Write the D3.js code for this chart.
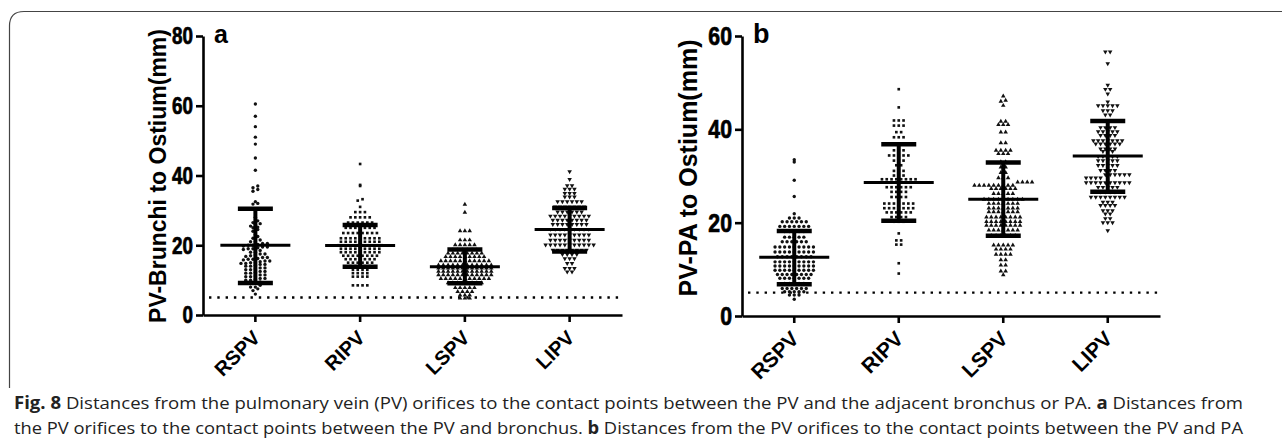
<!DOCTYPE html>
<html>
<head>
<meta charset="utf-8">
<script src="https://cdnjs.cloudflare.com/ajax/libs/d3/7.8.5/d3.min.js"></script>
<style>
  body { margin: 0; background: #fff; }
  svg { display: block; }
</style>
</head>
<body>
<svg id="fig" width="1282" height="442"></svg>
<script>
// categories and tick labels
const categories = ["RSPV", "RIPV", "LSPV", "LIPV"];
const aTicks = [0, 20, 40, 60, 80];
const bTicks = [0, 20, 40, 60];
const refLine = 5;

// panel a: PV-bronchus distances (mm)
const aRSPV = [60.5, 57.0, 54.0, 51.0, 49.0, 45.0, 41.5, 37.0, 36.5, 36.0, 35.5, 32.5, 32.0, 31.8,
  28.0, 27.0, 26.5, 26.2, 26.0, 25.5, 25.2, 25.0, 24.5, 24.0, 23.0, 22.5, 22.0, 21.5,
  21.0, 21.0, 20.5, 20.5, 20.2, 20.0, 20.0, 19.8, 19.5, 19.5, 19.3, 19.0, 19.0, 18.8,
  18.5, 18.0, 18.0, 17.5, 17.5, 17.2, 17.0, 16.8, 16.5, 16.5, 16.2, 16.0, 16.0, 15.8, 15.5, 15.5, 15.3, 15.0, 15.0, 14.8, 14.8,
  14.5, 14.5, 14.2, 14.0, 14.0, 13.5, 13.5, 13.2, 13.0, 13.0, 12.5, 12.5, 12.2, 12.0, 12.0,
  11.5, 11.5, 11.2, 11.0, 11.0, 10.5, 10.5, 10.2, 10.0, 10.0, 9.5, 9.5, 9.0,
  8.5, 8.0, 8.0, 7.5, 7.0, 6.0];
const aRIPV = [43.3, 37.3, 37.0, 33.2, 32.8, 31.0, 29.5, 29.5, 29.5,
  28.0, 28.0, 28.0, 28.0, 28.0,
  26.5, 26.5, 26.5, 26.5, 26.5, 26.5,
  25.0, 25.0, 25.0, 25.0, 25.0, 25.0, 25.0,
  23.5, 23.5, 23.5, 23.5, 23.5, 23.5, 23.5, 23.5,
  22.0, 22.0, 22.0, 22.0, 22.0, 22.0, 22.0, 22.0, 22.0,
  21.0, 21.0, 21.0, 21.0, 21.0, 21.0, 21.0, 21.0, 21.0,
  20.0, 20.0, 20.0, 20.0, 20.0, 20.0, 20.0, 20.0, 20.0, 20.0,
  19.0, 19.0, 19.0, 19.0, 19.0, 19.0, 19.0, 19.0, 19.0,
  18.0, 18.0, 18.0, 18.0, 18.0, 18.0, 18.0, 18.0, 18.0,
  17.0, 17.0, 17.0, 17.0, 17.0, 17.0, 17.0, 17.0,
  16.0, 16.0, 16.0, 16.0, 16.0, 16.0, 16.0,
  15.0, 15.0, 15.0, 15.0, 15.0, 15.0,
  14.0, 14.0, 14.0, 14.0, 14.0,
  13.0, 13.0, 13.0, 13.0,
  12.0, 12.0, 12.0, 12.0,
  11.0, 11.0, 11.0, 11.0,
  8.5, 8.5, 8.5, 8.5];
const aLSPV = [31.7, 29.4,
  24.1, 24.1, 24.1,
  21.5, 21.5, 21.5,
  20.1, 20.1, 20.1, 20.1, 20.1,
  18.7, 18.7, 18.7, 18.7, 18.7, 18.7,
  17.7, 17.7, 17.7, 17.7, 17.7, 17.7, 17.7, 17.7,
  16.7, 16.7, 16.7, 16.7, 16.7, 16.7, 16.7, 16.7, 16.7,
  15.5, 15.5, 15.5, 15.5, 15.5, 15.5, 15.5, 15.5, 15.5, 15.5, 15.5,
  14.3, 14.3, 14.3, 14.3, 14.3, 14.3, 14.3, 14.3, 14.3, 14.3, 14.3, 14.3,
  13.4, 13.4, 13.4, 13.4, 13.4, 13.4, 13.4, 13.4, 13.4, 13.4, 13.4, 13.4,
  12.5, 12.5, 12.5, 12.5, 12.5, 12.5, 12.5, 12.5, 12.5, 12.5, 12.5, 12.5,
  11.5, 11.5, 11.5, 11.5, 11.5, 11.5, 11.5, 11.5, 11.5, 11.5, 11.5, 11.5,
  10.4, 10.4, 10.4, 10.4, 10.4, 10.4, 10.4, 10.4, 10.4, 10.4, 10.4,
  9.2, 9.2, 9.2, 9.2, 9.2, 9.2, 9.2, 9.2,
  7.8, 7.8, 7.8, 7.8, 7.8,
  6.7, 6.7, 6.7, 6.7,
  5.7, 5.7, 5.7,
  4.8, 4.8, 4.8];
const aLIPV = [41.1, 38.9,
  37.1, 37.1,
  36.1, 36.1, 36.1,
  34.9, 34.9, 34.9,
  33.9, 33.9, 33.9,
  32.5, 32.5, 32.5, 32.5, 32.5, 32.5,
  31.0, 31.0, 31.0, 31.0, 31.0, 31.0, 31.0,
  29.6, 29.6, 29.6, 29.6, 29.6, 29.6,
  28.4, 28.4, 28.4, 28.4, 28.4, 28.4, 28.4, 28.4, 28.4,
  27.2, 27.2, 27.2, 27.2, 27.2, 27.2, 27.2, 27.2,
  26.0, 26.0, 26.0, 26.0, 26.0, 26.0, 26.0, 26.0,
  24.6, 24.6, 24.6, 24.6, 24.6, 24.6, 24.6, 24.6, 24.6,
  23.0, 23.0, 23.0, 23.0, 23.0, 23.0, 23.0, 23.0, 23.0,
  21.5, 21.5, 21.5, 21.5, 21.5, 21.5, 21.5, 21.5, 21.5,
  20.1, 20.1, 20.1, 20.1, 20.1, 20.1, 20.1, 20.1, 20.1, 20.1, 20.1,
  18.6, 18.6, 18.6, 18.6, 18.6, 18.6, 18.6, 18.6,
  17.4, 17.4, 17.4, 17.4,
  16.2, 16.2, 16.2,
  14.8, 14.8,
  13.4, 13.4, 13.4,
  12.4, 12.4];
const aMean = [20.0, 19.9, 13.8, 24.5];
const aSdUp = [30.5, 25.8, 18.8, 30.7];
const aSdLo = [9.2, 13.8, 9.1, 18.2];

// panel b: PV-PA distances (mm)
const bRSPV = [33.5, 33.0, 29.1, 25.6, 21.9,
  21.0, 21.0, 21.0,
  20.2, 20.2, 20.2, 20.2, 20.2, 20.2,
  19.2, 19.2, 19.2, 19.2, 19.2, 19.2, 19.2,
  18.1, 18.1, 18.1, 18.1, 18.1,
  16.9, 16.9, 16.9, 16.9, 16.9,
  15.9, 15.9, 15.9, 15.9, 15.9, 15.9,
  14.8, 14.8, 14.8, 14.8, 14.8, 14.8, 14.8, 14.8, 14.8,
  13.7, 13.7, 13.7, 13.7, 13.7, 13.7, 13.7, 13.7, 13.7,
  12.7, 12.7, 12.7, 12.7, 12.7, 12.7, 12.7, 12.7,
  11.6, 11.6, 11.6, 11.6, 11.6, 11.6, 11.6, 11.6, 11.6,
  10.7, 10.7, 10.7, 10.7, 10.7, 10.7, 10.7, 10.7, 10.7,
  9.8, 9.8, 9.8, 9.8, 9.8, 9.8, 9.8, 9.8, 9.8,
  8.9, 8.9, 8.9, 8.9, 8.9, 8.9, 8.9, 8.9,
  8.1, 8.1, 8.1, 8.1, 8.1, 8.1, 8.1,
  7.0, 7.0, 7.0, 7.0, 7.0,
  5.9, 5.9, 5.9, 5.9, 5.9, 5.9,
  5.2, 5.2, 5.2, 5.2, 5.2,
  4.5, 4.5, 4.5,
  3.6];
const bRIPV = [48.6, 44.7,
  41.9, 41.9, 41.9,
  40.8, 40.8, 40.8,
  39.4, 39.4,
  38.3, 38.3, 38.3,
  36.9, 36.9, 36.9,
  35.5, 35.5, 35.5,
  34.4, 34.4, 34.4, 34.4, 34.4,
  33.3, 33.3, 33.3,
  32.3, 32.3,
  31.1, 31.1, 31.1,
  30.1, 30.1, 30.1,
  29.3, 29.3, 29.3, 29.3, 29.3, 29.3, 29.3, 29.3,
  28.6, 28.6, 28.6, 28.6, 28.6, 28.6,
  27.6, 27.6, 27.6, 27.6, 27.6, 27.6,
  26.6, 26.6, 26.6, 26.6,
  25.5, 25.5, 25.5, 25.5,
  24.1, 24.1, 24.1, 24.1, 24.1, 24.1, 24.1,
  23.1, 23.1, 23.1, 23.1, 23.1, 23.1, 23.1,
  22.2, 22.2, 22.2, 22.2, 22.2, 22.2,
  21.2, 21.2, 21.2, 21.2,
  20.2, 20.2, 20.2,
  17.7, 16.2, 16.2, 15.3, 15.3, 11.3, 9.1];
const bLSPV = [47.1, 46.2, 46.0, 45.1,
  41.7, 41.7,
  41.0, 41.0, 41.0,
  39.4, 39.4,
  37.1, 37.1,
  35.5, 35.5, 35.5, 35.5,
  34.8, 34.8, 34.8,
  33.0, 33.0,
  31.9, 31.9,
  30.7, 30.7,
  29.6, 29.6, 29.6,
  28.7, 28.7, 28.7, 28.7,
  28.0, 28.0, 28.0, 28.0, 28.0, 28.0, 28.0, 28.0, 28.0,
  27.3, 27.3, 27.3, 27.3, 27.3, 27.3,
  26.2, 26.2, 26.2, 26.2, 26.2,
  25.0, 25.0, 25.0, 25.0, 25.0, 25.0, 25.0, 25.0, 25.0,
  24.1, 24.1, 24.1, 24.1, 24.1, 24.1, 24.1,
  23.1, 23.1, 23.1, 23.1, 23.1, 23.1, 23.1,
  22.3, 22.3, 22.3, 22.3, 22.3, 22.3, 22.3,
  21.2, 21.2, 21.2, 21.2, 21.2, 21.2, 21.2, 21.2,
  20.2, 20.2, 20.2, 20.2, 20.2, 20.2, 20.2, 20.2,
  19.4, 19.4, 19.4, 19.4, 19.4, 19.4, 19.4, 19.4,
  18.4, 18.4, 18.4, 18.4, 18.4, 18.4, 18.4,
  17.2, 17.2, 17.2, 17.2, 17.2, 17.2,
  15.2, 15.2, 15.2, 15.2, 15.2,
  14.3, 14.3, 14.3, 14.3,
  13.2, 13.2, 13.2, 13.2,
  12.0, 12.0, 10.9, 10.9, 9.6, 9.6, 8.8];
const bLIPV = [56.6, 56.6, 54.1, 49.5, 48.6, 48.6, 47.6, 45.9,
  45.1, 45.1, 45.1, 45.1, 45.1,
  44.0, 44.0, 44.0,
  43.1, 43.1,
  41.9, 41.9, 41.9, 41.9,
  40.4, 40.4, 40.4, 40.4,
  39.5, 39.5, 39.5, 39.5, 39.5,
  38.7, 38.7, 38.7, 38.7,
  37.6, 37.6, 37.6, 37.6, 37.6, 37.6, 37.6,
  36.9, 36.9, 36.9, 36.9, 36.9, 36.9,
  35.8, 35.8, 35.8, 35.8,
  35.3, 35.3, 35.3,
  34.2, 34.2, 34.2, 34.2, 34.2,
  33.3, 33.3, 33.3, 33.3, 33.3,
  32.3, 32.3, 32.3, 32.3, 32.3,
  31.2, 31.2, 31.2, 31.2,
  30.3, 30.3, 30.3, 30.3, 30.3, 30.3,
  29.6, 29.6, 29.6, 29.6,
  28.6, 28.6, 28.6, 28.6, 28.6, 28.6, 28.6, 28.6, 28.6, 28.6,
  27.6, 27.6, 27.6, 27.6, 27.6,
  26.6, 26.6, 26.6, 26.6,
  25.5, 25.5, 25.5, 25.5, 25.5, 25.5, 25.5, 25.5,
  24.4, 24.4, 24.4,
  23.7, 23.7, 23.7, 23.7,
  22.6, 22.6, 22.6,
  21.9, 21.9,
  20.9, 20.9,
  20.0, 20.0, 20.0,
  18.3];
const bMean = [12.6, 28.6, 25.0, 34.3];
const bSdUp = [18.2, 36.8, 32.9, 41.8];
const bSdLo = [6.8, 20.4, 17.2, 26.6];

const svg = d3.select("#fig");
const font = "'Liberation Sans', Arial, sans-serif";

// figure frame (left and top edge with rounded corner)
svg.append("path")
  .attr("d", "M9.5,388 L9.5,26 Q9.5,11.5 24,11.5 L1282,11.5")
  .attr("fill", "none")
  .attr("stroke", "#444")
  .attr("stroke-width", 1.2);

const symbols = [d3.symbolCircle, d3.symbolSquare, d3.symbolTriangle, d3.symbolTriangle];

// Prism-like scatter: values falling in the same pixel row are spread symmetrically
function spread(values, y, rowH, step) {
  const pts = values.map(v => ({ v: v, y: y(v), dx: 0 }));
  const rows = d3.group(pts, p => Math.round(p.y / rowH));
  rows.forEach(row => {
    row.sort((a, b) => a.v - b.v);
    row.forEach((p, j) => { p.dx = (j - (row.length - 1) / 2) * step; });
  });
  return pts;
}

function drawPanel(cfg) {
  const x = d3.scaleBand().domain(categories).range([cfg.left, cfg.right]);
  const y = d3.scaleLinear().domain([0, cfg.max]).range([cfg.bottom, cfg.top]);
  const g = svg.append("g");

  // reference line at 5 mm
  g.append("line")
    .attr("x1", cfg.left + 6).attr("x2", cfg.right)
    .attr("y1", y(refLine)).attr("y2", y(refLine))
    .attr("stroke", "#000").attr("stroke-width", 2.4)
    .attr("stroke-dasharray", "2.4 5.9");

  // dots
  cfg.groups.forEach((vals, i) => {
    const cx = x(categories[i]) + x.bandwidth() / 2;
    const pts = spread(vals, y, cfg.rowH, cfg.step);
    g.append("g").selectAll("path")
      .data(pts)
      .join("path")
      .attr("d", d3.symbol().type(symbols[i]).size(i === 1 ? 7 : 9))
      .attr("transform", p => `translate(${cx + p.dx},${p.y})` + (i === 3 ? " rotate(180)" : ""))
      .attr("fill", "#111");
  });

  // mean and SD bars
  categories.forEach((c, i) => {
    const cx = x(c) + x.bandwidth() / 2;
    g.append("line").attr("x1", cx).attr("x2", cx)
      .attr("y1", y(cfg.up[i])).attr("y2", y(cfg.lo[i]))
      .attr("stroke", "#000").attr("stroke-width", 4);
    [cfg.up[i], cfg.lo[i]].forEach(v => {
      g.append("line").attr("x1", cx - 17.5).attr("x2", cx + 17.5)
        .attr("y1", y(v)).attr("y2", y(v))
        .attr("stroke", "#000").attr("stroke-width", 4.5);
    });
    g.append("line").attr("x1", cx - 35).attr("x2", cx + 35)
      .attr("y1", y(cfg.mean[i])).attr("y2", y(cfg.mean[i]))
      .attr("stroke", "#000").attr("stroke-width", 3);
  });

  // axes (labels drawn separately below)
  const yAxis = g.append("g")
    .attr("transform", `translate(${cfg.left},0)`)
    .call(d3.axisLeft(y).tickValues(cfg.ticks).tickSize(7).tickSizeOuter(0).tickFormat(""));
  const xAxis = g.append("g")
    .attr("transform", `translate(0,${cfg.bottom})`)
    .call(d3.axisBottom(x).tickSize(7).tickSizeOuter(0).tickFormat(""));
  [yAxis, xAxis].forEach(a => {
    a.select(".domain").attr("stroke-width", 2.6);
    a.selectAll(".tick line").attr("stroke-width", 2.6);
  });

  // tick labels: heavy bold, slightly condensed like the original export
  g.append("g").selectAll("text")
    .data(cfg.ticks)
    .join("text")
    .attr("transform", t => `translate(${cfg.left - 10},${y(t)}) scale(${cfg.squeeze},1)`)
    .attr("dy", "0.36em")
    .attr("text-anchor", "end")
    .attr("fill", "#000")
    .attr("stroke", "#000")
    .attr("stroke-width", 0.7)
    .style("font-family", font).style("font-weight", "700")
    .style("font-size", cfg.tickFs + "px")
    .text(t => t);

  // rotated category labels
  categories.forEach(c => {
    const cx = x(c) + x.bandwidth() / 2;
    g.append("text")
      .attr("transform", `translate(${cx + cfg.labDx},${cfg.bottom + cfg.labDy}) rotate(-45)`)
      .attr("text-anchor", "end")
      .style("font-family", font).style("font-weight", "bold")
      .style("font-size", cfg.catFs + "px")
      .text(c);
  });

  // y title and panel letter
  g.append("text")
    .attr("transform", `translate(${cfg.titleX},${cfg.titleY}) rotate(-90)`)
    .attr("text-anchor", "middle")
    .style("font-family", font).style("font-weight", "bold")
    .style("font-size", cfg.titleFs + "px")
    .text(cfg.title);
  g.append("text")
    .attr("x", cfg.left + 11).attr("y", cfg.top + 7)
    .style("font-family", font).style("font-weight", "bold")
    .style("font-size", cfg.letterFs + "px")
    .text(cfg.letter);
}

drawPanel({
  letter: "a", title: "PV-Brunchi to Ostium(mm)",
  left: 203, right: 622, top: 36, bottom: 315, max: 80, ticks: aTicks,
  groups: [aRSPV, aRIPV, aLSPV, aLIPV], mean: aMean, up: aSdUp, lo: aSdLo,
  rowH: 3.4, step: 4.8, tickFs: 23, squeeze: 0.82, catFs: 20, titleFs: 23, letterFs: 25,
  titleX: 166, titleY: 176, labDx: 6, labDy: 24
});
drawPanel({
  letter: "b", title: "PV-PA to Ostium(mm)",
  left: 742, right: 1160, top: 36, bottom: 316, max: 60, ticks: bTicks,
  groups: [bRSPV, bRIPV, bLSPV, bLIPV], mean: bMean, up: bSdUp, lo: bSdLo,
  rowH: 3.6, step: 4.8, tickFs: 25, squeeze: 0.85, catFs: 21, titleFs: 25, letterFs: 27,
  titleX: 697, titleY: 168, labDx: 6, labDy: 24
});

// caption
const capFont = "'Open Sans', 'Noto Sans', sans-serif";
const cap1 = svg.append("text").attr("x", 14).attr("y", 409)
  .attr("font-family", capFont).attr("font-size", 17).attr("fill", "#222")
  .attr("textLength", 1229).attr("lengthAdjust", "spacingAndGlyphs");
cap1.append("tspan").attr("font-weight", "bold").text("Fig. 8");
cap1.append("tspan").text("  Distances from the pulmonary vein (PV) orifices to the contact points between the PV and the adjacent bronchus or PA. ");
cap1.append("tspan").attr("font-weight", "bold").text("a");
cap1.append("tspan").text(" Distances from");

const cap2 = svg.append("text").attr("x", 14).attr("y", 434)
  .attr("font-family", capFont).attr("font-size", 17).attr("fill", "#222")
  .attr("textLength", 1229).attr("lengthAdjust", "spacingAndGlyphs");
cap2.append("tspan").text("the PV orifices to the contact points between the PV and bronchus. ");
cap2.append("tspan").attr("font-weight", "bold").text("b");
cap2.append("tspan").text(" Distances from the PV orifices to the contact points between the PV and PA");
</script>
</body>
</html>
